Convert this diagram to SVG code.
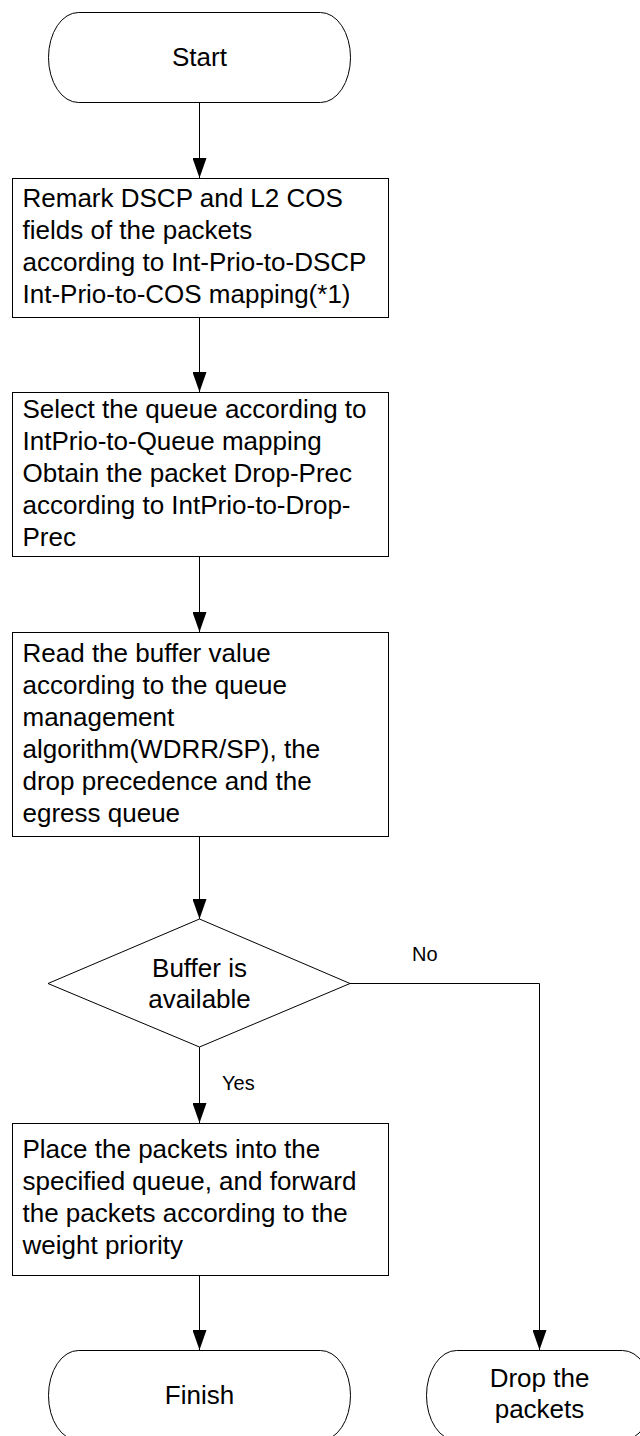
<svg xmlns="http://www.w3.org/2000/svg" width="640" height="1436" viewBox="0 0 640 1436">
<style>
.shape{fill:#fff;stroke:#000;stroke-width:1}
.t{font-family:"Liberation Sans",Arial,sans-serif;font-size:26px;fill:#000}
.c{text-anchor:middle}
.lbl{font-family:"Liberation Sans",Arial,sans-serif;font-size:20px;fill:#000}
.edge{fill:none;stroke:#000;stroke-width:1;marker-end:url(#arr)}
</style>
<defs>
<marker id="arr" markerUnits="userSpaceOnUse" markerWidth="20" markerHeight="14" refX="20" refY="7" orient="auto" viewBox="0 0 20 14">
<path d="M0,0 L20,7 L0,14 Z" fill="#000"/>
</marker>
</defs>
<rect width="640" height="1436" fill="#fff"/>
<g id="connectors">
<path class="edge" d="M199.5,102 V178"/>
<path class="edge" d="M199.5,317 V392"/>
<path class="edge" d="M199.5,556 V632"/>
<path class="edge" d="M199.5,836 V919"/>
<path class="edge" d="M199.5,1047 V1123"/>
<path class="edge" d="M199.5,1275 V1350"/>
<path class="edge" d="M350,983.5 H539.5 V1350"/>
<text class="lbl" x="412" y="961">No</text>
<text class="lbl" x="222" y="1090">Yes</text>
</g>
<g id="start">
<rect class="shape" x="48.5" y="12.5" width="302" height="90" rx="30" ry="45"/>
<text class="t c" x="199.5" y="66">Start</text>
</g>
<g id="remark">
<rect class="shape" x="12.5" y="178.5" width="376" height="139"/>
<text class="t" x="22.5" y="207">Remark DSCP and L2 COS</text>
<text class="t" x="22.5" y="239">fields of the packets</text>
<text class="t" x="22.5" y="271">according to Int-Prio-to-DSCP</text>
<text class="t" x="22.5" y="303">Int-Prio-to-COS mapping(*1)</text>
</g>
<g id="select">
<rect class="shape" x="12.5" y="392.5" width="376" height="164"/>
<text class="t" x="22.5" y="418">Select the queue according to</text>
<text class="t" x="22.5" y="450">IntPrio-to-Queue mapping</text>
<text class="t" x="22.5" y="482">Obtain the packet Drop-Prec</text>
<text class="t" x="22.5" y="514">according to IntPrio-to-Drop-</text>
<text class="t" x="22.5" y="546">Prec</text>
</g>
<g id="read">
<rect class="shape" x="12.5" y="632.5" width="376" height="204"/>
<text class="t" x="22.5" y="662">Read the buffer value</text>
<text class="t" x="22.5" y="694">according to the queue</text>
<text class="t" x="22.5" y="726">management</text>
<text class="t" x="22.5" y="758">algorithm(WDRR/SP), the</text>
<text class="t" x="22.5" y="790">drop precedence and the</text>
<text class="t" x="22.5" y="822">egress queue</text>
</g>
<g id="decision">
<polygon class="shape" points="199.5,919 350,983.5 199.5,1047 48,983.5"/>
<text class="t c" x="199.5" y="977">Buffer is</text>
<text class="t c" x="199.5" y="1008">available</text>
</g>
<g id="place">
<rect class="shape" x="12.5" y="1123.5" width="376" height="152"/>
<text class="t" x="22.5" y="1158">Place the packets into the</text>
<text class="t" x="22.5" y="1190">specified queue, and forward</text>
<text class="t" x="22.5" y="1222">the packets according to the</text>
<text class="t" x="22.5" y="1254">weight priority</text>
</g>
<g id="finish">
<rect class="shape" x="48.5" y="1350.5" width="302" height="90" rx="30" ry="45"/>
<text class="t c" x="199.5" y="1404">Finish</text>
</g>
<g id="drop">
<rect class="shape" x="426.5" y="1350.5" width="226" height="90" rx="30" ry="45"/>
<text class="t c" x="539.5" y="1387">Drop the</text>
<text class="t c" x="539.5" y="1418">packets</text>
</g>
</svg>
